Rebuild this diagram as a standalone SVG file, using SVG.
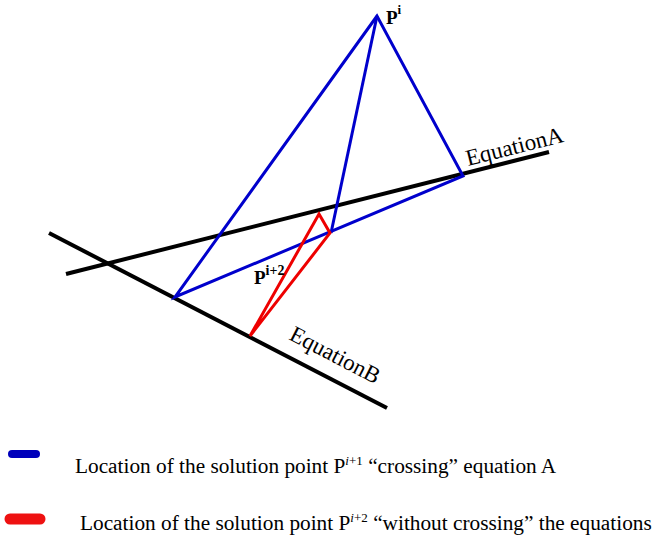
<svg xmlns="http://www.w3.org/2000/svg" width="656" height="537" viewBox="0 0 656 537">
<style>
.eq{stroke:#000;stroke-width:4;fill:none}
.blue{stroke:#0000cc;stroke-width:3;fill:none;stroke-linejoin:miter}
.red{stroke:#ee0000;stroke-width:3;fill:none}
.lbl{font-family:"Liberation Serif","Times New Roman",serif;fill:#000}
.b{font-weight:bold}
</style>
<rect width="656" height="537" fill="#fff"/>
<g id="equationA">
<line class="eq" x1="66" y1="274" x2="549" y2="152"/>
<text class="lbl" font-size="23" transform="translate(468,166) rotate(-14.2)">EquationA</text>
</g>
<g id="equationB">
<line class="eq" x1="49" y1="233" x2="387" y2="408"/>
<text class="lbl" font-size="23" transform="translate(288,339) rotate(27.4)">EquationB</text>
</g>
<g id="connectors">
<polygon class="blue" points="377,16 175,297 463,176"/>
<line class="blue" x1="377" y1="16" x2="331" y2="233"/>
<polygon class="red" points="250,336 319,214 330,233"/>
</g>
<g id="Pi">
<text class="lbl b" x="386" y="24" font-size="19">P<tspan font-size="13" dy="-10">i</tspan></text>
</g>
<g id="Pi2">
<text class="lbl b" x="254" y="284" font-size="19">P<tspan font-size="14" dy="-9">i+2</tspan></text>
</g>
<g id="legend-blue">
<line x1="12" y1="454" x2="36" y2="454" stroke="#0000bb" stroke-width="8" stroke-linecap="round"/>
<text class="lbl" x="75" y="473" font-size="21.3">Location of the solution point P<tspan font-size="13" font-style="italic" dy="-8">i</tspan><tspan font-size="13">+1</tspan><tspan dy="8"> “crossing” equation A</tspan></text>
</g>
<g id="legend-red">
<line x1="10" y1="519" x2="40" y2="519" stroke="#ee1111" stroke-width="11" stroke-linecap="round"/>
<text class="lbl" x="80" y="530" font-size="21.3">Location of the solution point P<tspan font-size="13" font-style="italic" dy="-8">i</tspan><tspan font-size="13">+2</tspan><tspan dy="8"> “without crossing” the equations</tspan></text>
</g>
</svg>
